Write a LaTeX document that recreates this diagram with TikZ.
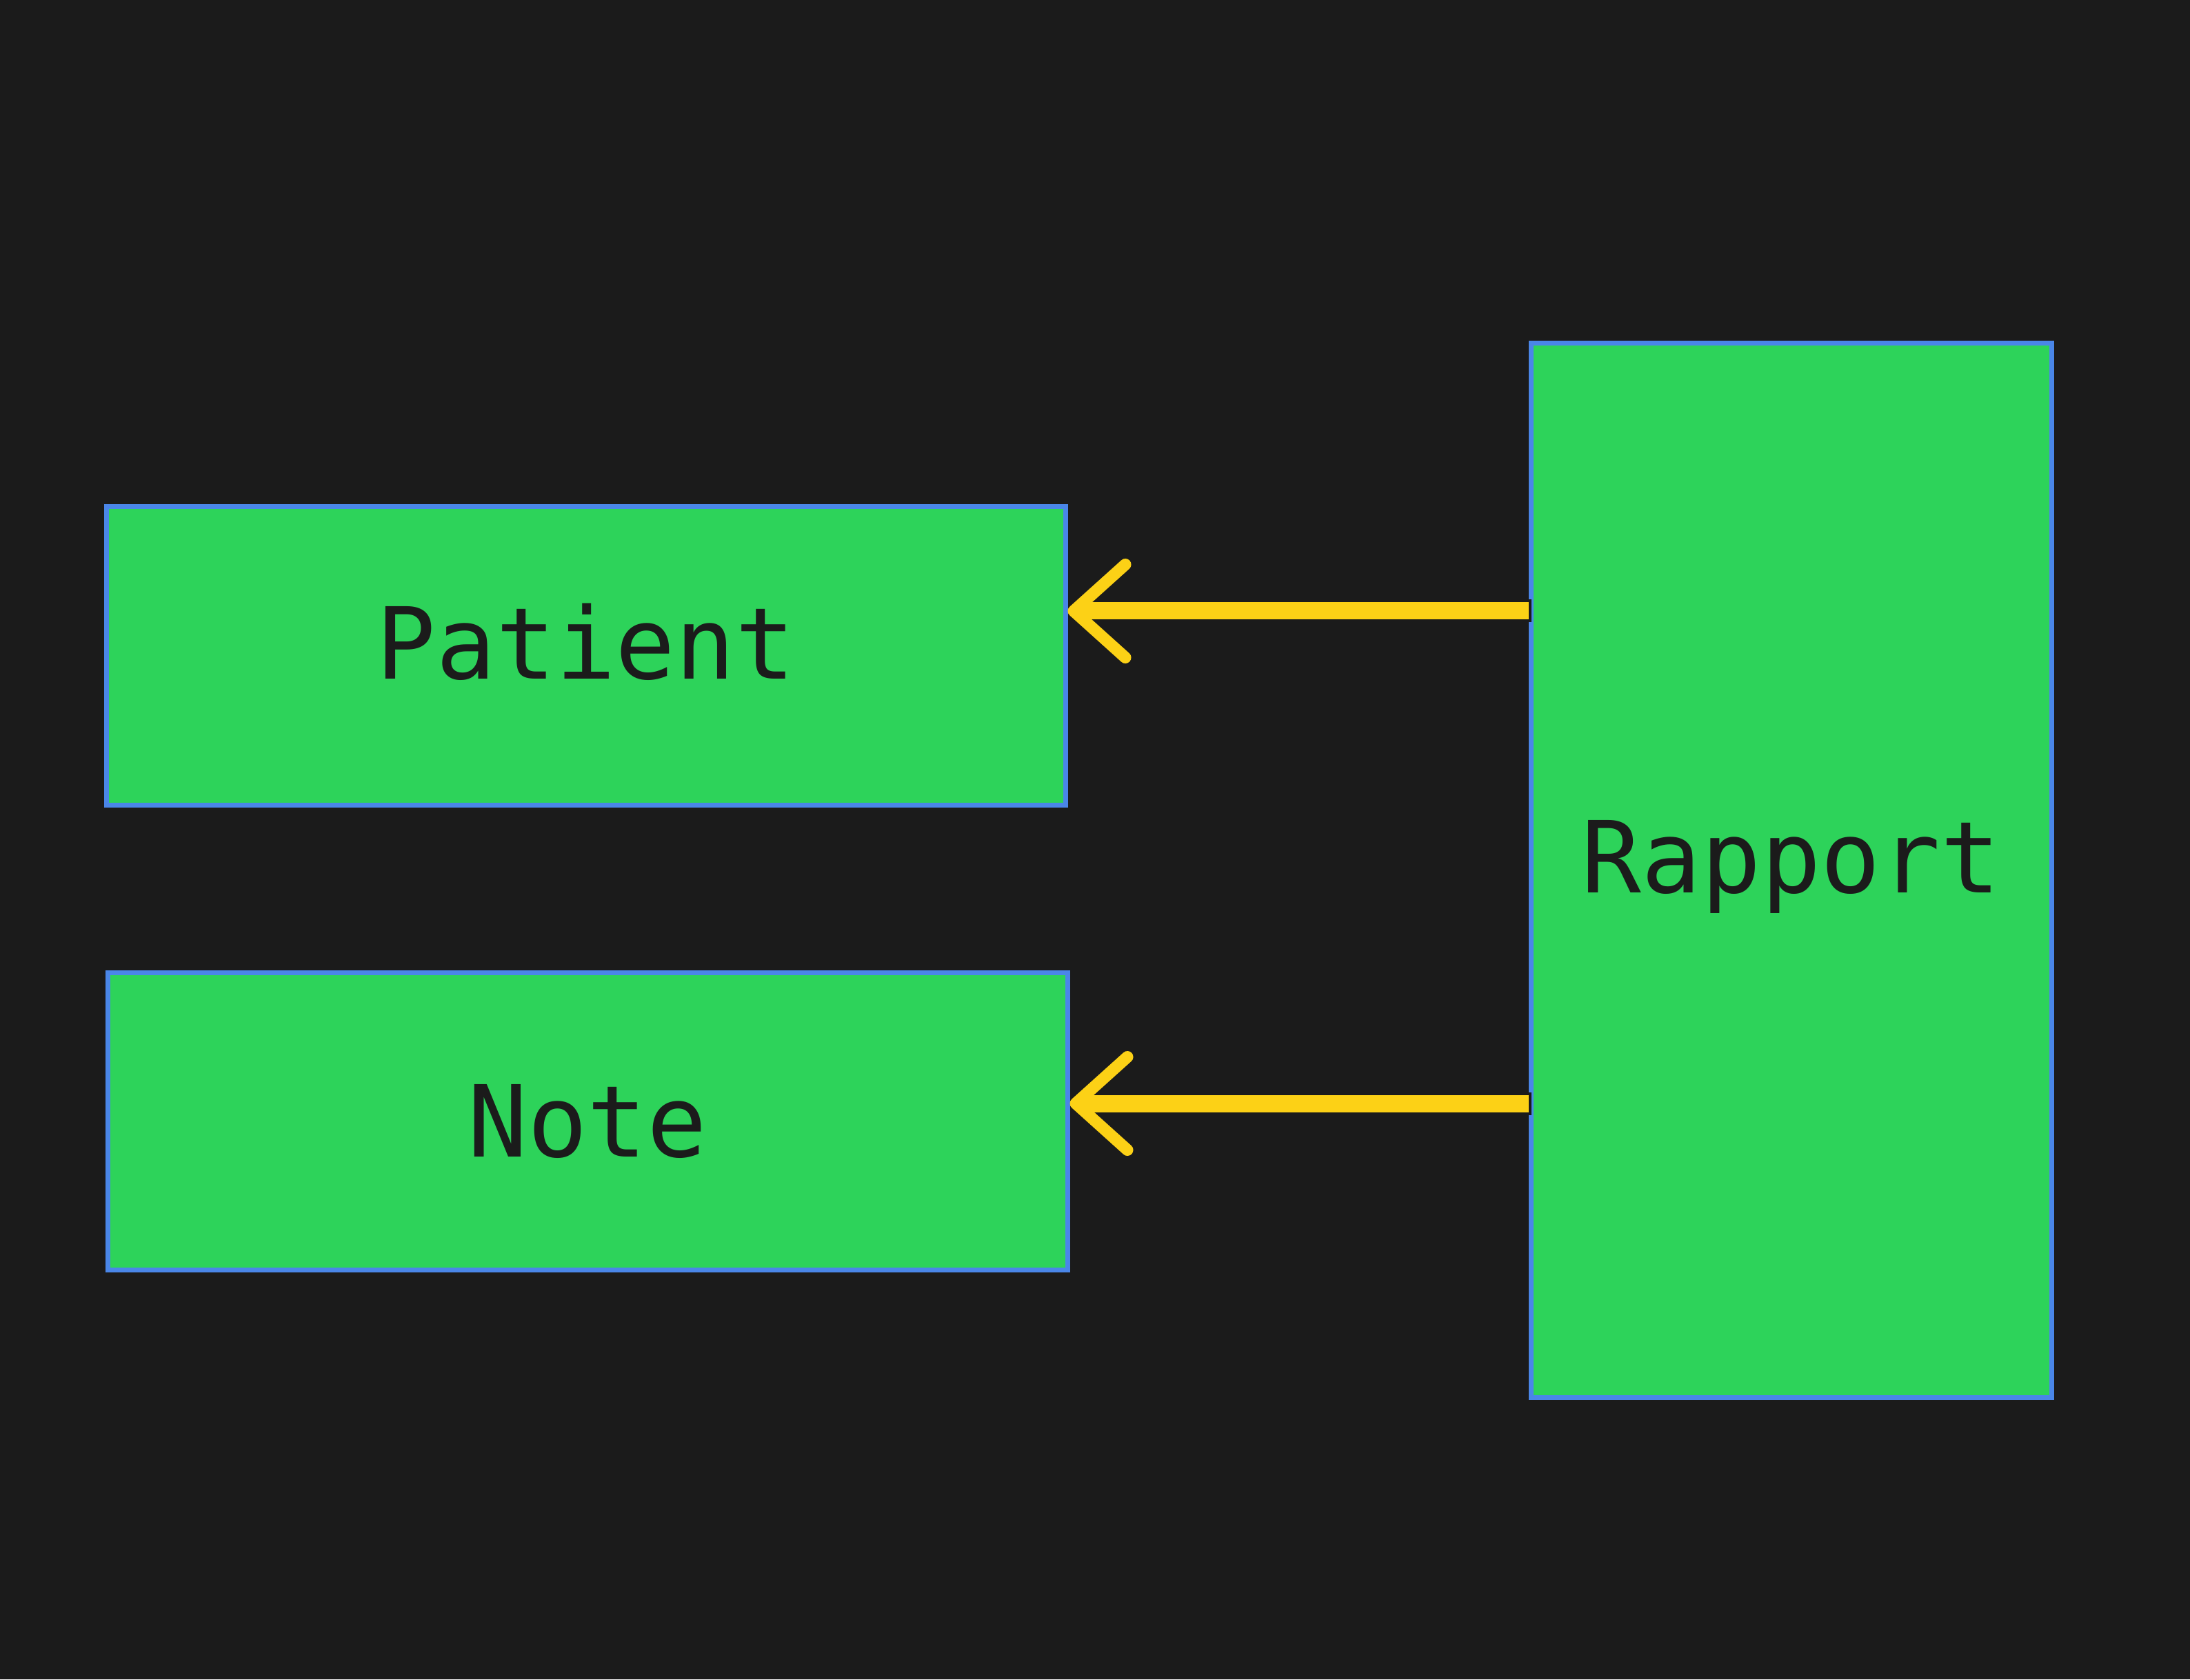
\documentclass[tikz,border=0pt]{standalone}
\usepackage{fontspec}
\setmonofont{DejaVu Sans Mono}
\usetikzlibrary{arrows.meta}
\usetikzlibrary{positioning}
\definecolor{bgdark}{HTML}{1B1B1B}
\definecolor{boxgreen}{HTML}{2DD35A}
\definecolor{boxblue}{HTML}{4A86E8}
\definecolor{linkyellow}{HTML}{FCD116}
\tikzset{entity/.style = {draw = boxblue, fill = boxgreen, line width = 0.07cm,
                          inner sep = 0, text = bgdark,
                          font = \ttfamily\fontsize{41}{48}\selectfont}}
\tikzset{link/.style = {draw = linkyellow, line width = 0.25cm,
                        -{Straight Barb[length = 0.75cm, width = 1.35cm,
                                        line width = 0.17cm, round]},
                        preaction = {draw = bgdark, line width = 0.33cm, -,
                                     shorten < = -0.04cm}}}

\begin{document}
\begin{tikzpicture}
      \fill [bgdark] (0, 0) rectangle (31.76, 24.35);
      \useasboundingbox (0, 0) rectangle (31.76, 24.35);

      \node [entity, minimum width = 13.91cm, minimum height = 4.32cm] (patient) at (8.495, 14.84)
        {\raisebox{0.2cm}[\height][\depth]{Patient}};
      \node [entity, minimum width = 13.92cm, minimum height = 4.31cm] (note) at (8.52, 8.095) {Note};
      \node [entity, minimum width = 7.55cm, minimum height = 15.28cm] (rapport) at (25.975, 11.73)
        {\raisebox{0.05cm}[\height][\depth]{Rapport}};

      \draw [link] ([yshift = 0.65cm] patient.east -| rapport.west) -- ([yshift = 0.65cm] patient.east);
      \draw [link] ([yshift = 0.255cm] note.east -| rapport.west) -- ([yshift = 0.255cm] note.east);
    \end{tikzpicture}
\end{document}
